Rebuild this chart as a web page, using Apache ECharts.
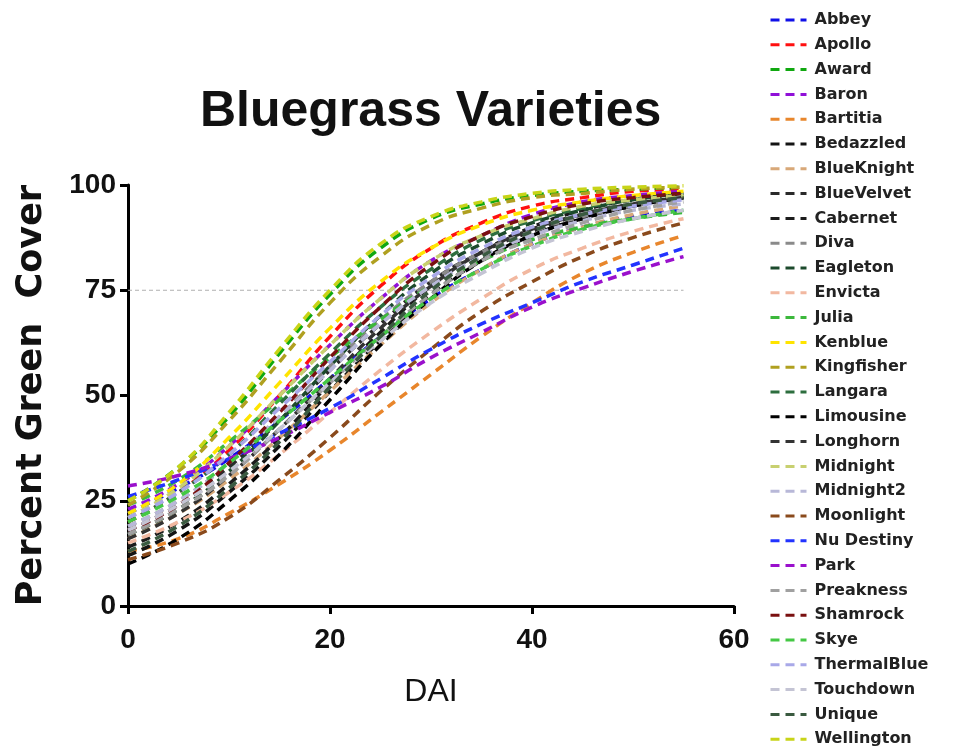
<!DOCTYPE html>
<html>
<head>
<meta charset="utf-8">
<script src="https://cdn.jsdelivr.net/npm/echarts@6/dist/echarts.min.js"></script>
<style>
  html, body { margin: 0; padding: 0; background: #fff; }
  #chart { width: 976px; height: 750px; }
</style>
</head>
<body>
<div id="chart"></div>
<script>
// DAI sample points for every fitted curve
var dai = [0, 5, 10, 15, 20, 25, 30, 35, 40, 45, 50, 55];

var varieties = ["Abbey", "Apollo", "Award", "Baron", "Bartitia", "Bedazzled", "BlueKnight",
    "BlueVelvet", "Cabernet", "Diva", "Eagleton", "Envicta", "Julia", "Kenblue", "Kingfisher",
    "Langara", "Limousine", "Longhorn", "Midnight", "Midnight2", "Moonlight", "Nu Destiny",
    "Park", "Preakness", "Shamrock", "Skye", "ThermalBlue", "Touchdown", "Unique", "Wellington"];

var colors = ["#1010e8", "#ff1010", "#10a810", "#9010d8", "#e8862c", "#141414", "#d8a878",
    "#2a2a2a", "#1c1c1c", "#8a8a8a", "#1c4a2c", "#f2b8a0", "#3cb83c", "#ffe400", "#b0a020",
    "#2d6e3e", "#000000", "#333333", "#c8d070", "#b8b8d8", "#8a4a1c", "#2233ff",
    "#9a10cc", "#a0a0a0", "#7a1010", "#44c844", "#a8a8e8", "#c4c4d4", "#3a5a40", "#c8d418"];

var abbey      = [22, 28, 35, 44, 54, 64, 73, 80, 86, 90, 92.5, 94];
var apollo     = [20, 27, 37, 50, 64, 76, 85, 91, 95, 97, 98.5, 99];
var award      = [25, 33, 45, 60, 74, 85, 92, 95.5, 97.5, 98.5, 99, 99.5];
var baron      = [23, 29, 38, 50, 62, 73, 82, 88, 93, 96, 97.5, 98.5];
var bartitia   = [13, 16, 22, 29, 37, 46, 55, 64, 72, 79, 84, 88];
var bedazzled  = [12, 18, 27, 38, 51, 63, 74, 82, 88, 92, 95, 97];
var blueKnight = [16, 22, 30, 40, 51, 62, 72, 80, 86, 90, 93, 95];
var blueVelvet = [18, 24, 33, 44, 56, 67, 77, 84, 89, 93, 95.5, 97];
var cabernet   = [14, 20, 29, 40, 53, 65, 76, 84, 90, 94, 96.5, 98];
var diva       = [19, 25, 34, 45, 57, 68, 77, 84, 89, 92.5, 95, 96.5];
var eagleton   = [17, 23, 32, 44, 57, 69, 79, 86, 91, 94, 96.5, 98];
var envicta    = [15, 20, 27, 36, 46, 56, 65, 73, 80, 85, 89, 92];
var julia      = [24, 30, 39, 49, 59, 68, 76, 82, 87, 90, 92, 93.5];
var kenblue    = [22, 29, 40, 53, 66, 77, 85, 90.5, 94, 96, 97.5, 98.5];
var kingfisher = [24, 32, 44, 58, 72, 83, 90.5, 94.5, 97, 98, 99, 99.5];
var langara    = [20, 27, 36, 48, 60, 71, 80, 87, 91.5, 94.5, 96.5, 97.5];
var limousine  = [10, 16, 25, 36, 49, 62, 73, 82, 88, 92, 95, 97];
var longhorn   = [16, 22, 31, 42, 54, 66, 76, 84, 89.5, 93, 95.5, 97];
var midnight   = [21, 28, 38, 50, 62, 73, 82, 88, 92, 95, 96.5, 97.5];
var midnight2  = [19, 25, 34, 45, 56, 67, 76, 83, 88, 91.5, 94, 95.5];
var moonlight  = [11, 15, 21, 30, 40, 51, 61, 70, 77, 83, 87.5, 91];
var nuDestiny  = [26, 30, 35, 41, 47, 54, 61, 67, 72, 77, 81, 85];
var park       = [28.5, 31, 35, 40, 46, 52, 59, 65, 71, 75.5, 79.5, 83];
var preakness  = [17, 23, 31, 42, 53, 64, 74, 82, 87, 91, 94, 96];
var shamrock   = [18, 24, 34, 46, 59, 71, 81, 88, 92.5, 95.5, 97, 98];
var skye       = [20, 26, 34, 44, 54, 64, 73, 80, 85.5, 89.5, 92, 94];
var thermalBlue = [21, 27, 36, 47, 58, 69, 78, 85, 90, 93, 95, 96.5];
var touchdown  = [18, 24, 32, 42, 53, 63, 72, 79, 85, 89, 92, 94];
var unique     = [13, 19, 28, 39, 52, 64, 75, 83, 89, 93, 95.5, 97];
var wellington = [25, 33, 46, 61, 75, 86, 92.5, 96, 98, 99, 99.5, 99.8];

var cover = [abbey, apollo, award, baron, bartitia, bedazzled, blueKnight, blueVelvet,
    cabernet, diva, eagleton, envicta, julia, kenblue, kingfisher, langara, limousine,
    longhorn, midnight, midnight2, moonlight, nuDestiny, park, preakness, shamrock, skye,
    thermalBlue, touchdown, unique, wellington];

// 75 % reference line
var refX = [0, 55];
var refY = [75, 75];

var font = "'Liberation Sans', Arial, sans-serif";
var wideFont = "'DejaVu Sans', Verdana, sans-serif";

var series = varieties.map(function (name, i) {
    return {
        name: name,
        type: 'line',
        smooth: true,
        symbol: 'none',
        showSymbol: false,
        z: 3,
        data: dai.map(function (x, j) { return [x, cover[i][j]]; }),
        lineStyle: { color: colors[i], width: 3.5, type: [9, 6] },
        itemStyle: { color: colors[i] }
    };
});

series.unshift({
    name: 'ref',
    type: 'line',
    symbol: 'none',
    silent: true,
    z: 1,
    data: refX.map(function (x, j) { return [x, refY[j]]; }),
    lineStyle: { color: '#b0b0b0', width: 1, type: [4, 3] }
});

var chart = echarts.init(document.getElementById('chart'));
chart.setOption({
    animation: false,
    backgroundColor: '#ffffff',
    title: {
        text: 'Bluegrass Varieties',
        left: 195,
        top: 82,
        textStyle: { fontFamily: font, fontSize: 50, fontWeight: 'bold', color: '#111' }
    },
    legend: {
        orient: 'vertical',
        left: 769,
        top: 12,
        height: 738,
        padding: 0,
        data: varieties,
        itemWidth: 36,
        itemHeight: 14,
        itemGap: 8.8,
        itemStyle: { opacity: 0 },
        lineStyle: { width: 3 },
        textStyle: { fontFamily: wideFont, fontSize: 16, fontWeight: 'bold', color: '#222', padding: [0, 0, 0, 3] }
    },
    grid: { left: 128, right: 242, top: 185, bottom: 144 },
    xAxis: {
        type: 'value',
        min: 0, max: 60, interval: 20,
        name: 'DAI',
        nameLocation: 'middle',
        nameGap: 70,
        nameTextStyle: { fontFamily: font, fontSize: 32, color: '#111' },
        axisLine: { lineStyle: { color: '#000', width: 3 } },
        axisTick: { length: 8, lineStyle: { color: '#000', width: 3 } },
        axisLabel: { fontFamily: font, fontSize: 28, fontWeight: 'bold', color: '#111', margin: 20 },
        splitLine: { show: false }
    },
    yAxis: {
        type: 'value',
        min: 0, max: 100, interval: 25,
        name: 'Percent Green  Cover',
        nameLocation: 'middle',
        nameGap: 79,
        nameTextStyle: { fontFamily: wideFont, fontSize: 35, fontWeight: 'bold', color: '#111' },
        axisLine: { show: true, lineStyle: { color: '#000', width: 3 } },
        axisTick: { show: true, length: 8, lineStyle: { color: '#000', width: 3 } },
        axisLabel: { fontFamily: font, fontSize: 28, fontWeight: 'bold', color: '#111', margin: 12 },
        splitLine: { show: false }
    },
    series: series
});
</script>
</body>
</html>
